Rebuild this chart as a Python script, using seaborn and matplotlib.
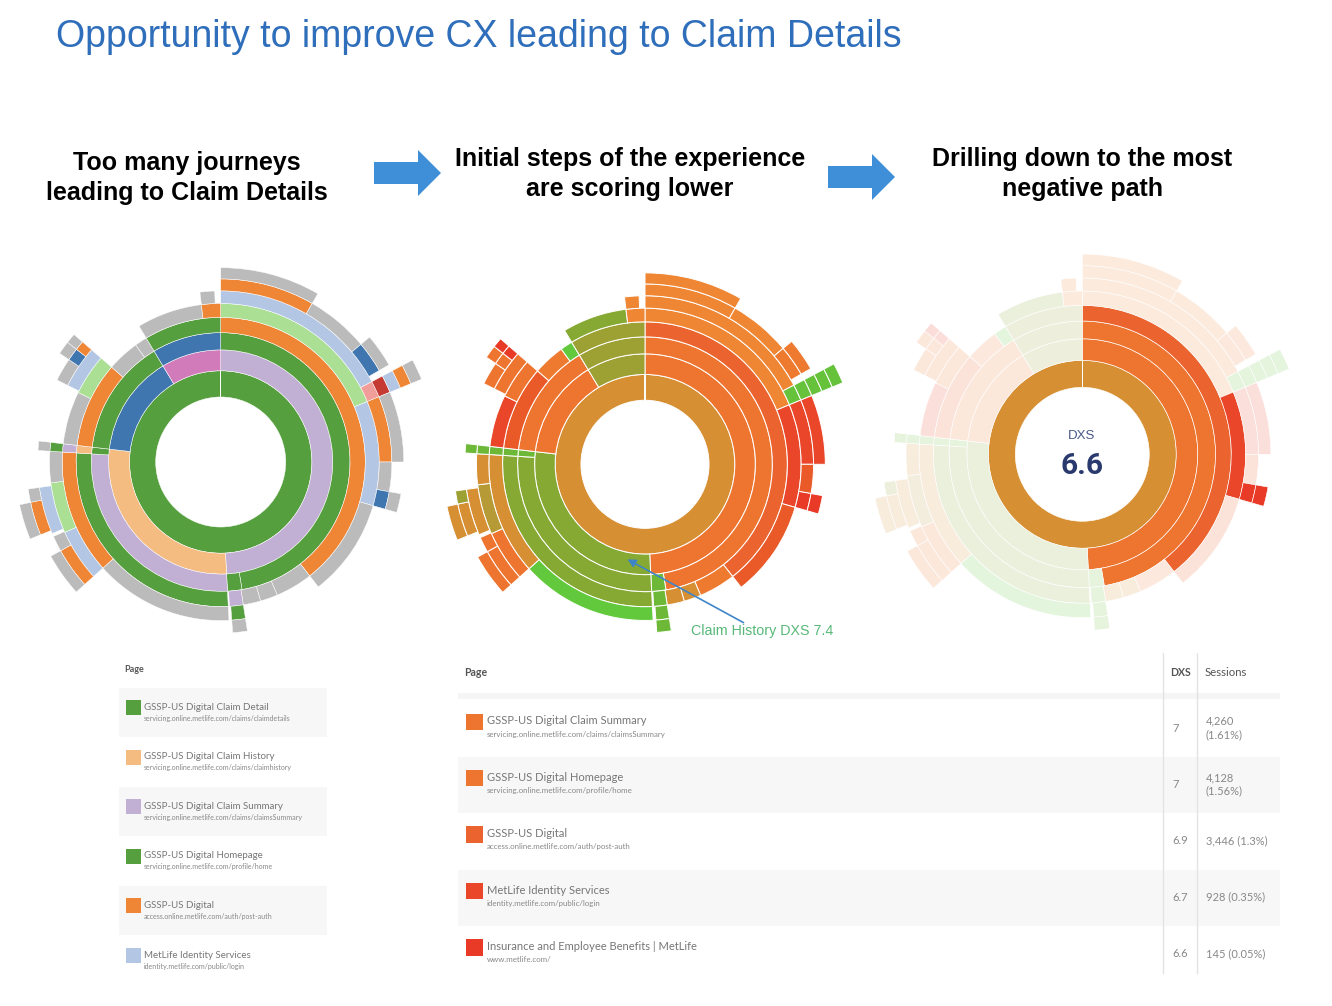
import numpy as np
import pandas as pd
import matplotlib.pyplot as plt
import matplotlib.patches as mpatches
from matplotlib.colors import to_rgb
import seaborn as sns

sns.set_theme(style="white")
plt.rcParams['font.family'] = ['Liberation Sans', 'DejaVu Sans']

title = "Opportunity to improve CX leading to Claim Details"

# radial edges of the rings, same tree in all three sunbursts
ring_edges = [196, 275, 338, 390, 436, 478, 516, 552, 586, 620, 655]

# one row per segment: ring, from deg, to deg, page colour, dxs colour, on negative path
ring1 = [(1, 0, 360, "green", "tan", 1)]
ring2 = [(2, 0, 177, "purple", "org", 1), (2, 177, 276.6, "peach", "olv", 0),
         (2, 276.6, 329, "blue", "org", 0), (2, 329, 360, "pink", "oli", 0)]
ring3 = [(3, 0, 170.5, "green", "org", 1), (3, 170.5, 177, "green", "gr2", 0),
         (3, 177, 273.6, "purple", "olv", 0), (3, 273.6, 276.6, "green", "gr2", 0),
         (3, 276.6, 329, "green", "org", 0), (3, 329, 360, "blue", "oli", 0)]
ring4 = [(4, 0, 142, "orange", "dor", 1), (4, 142, 157, "grey", "yl2", 0),
         (4, 157, 164, "grey", "tan", 0), (4, 164, 171, "grey", "tan", 0),
         (4, 171, 176.5, "purple", "gr2", 0), (4, 177, 273.6, "green", "olv", 0),
         (4, 273.6, 276.6, "peach", "gr2", 0), (4, 276.6, 311, "orange", "rdo", 0),
         (4, 311, 324, "grey", "yl2", 0), (4, 324, 329, "grey", "lim", 0),
         (4, 329, 360, "green", "oli", 0)]
ring5 = [(5, 0, 67.6, "lgreen", "yel", 0), (5, 67.6, 106, "lblue", "red", 1),
         (5, 106, 142, "grey", "rdo", 0), (5, 171, 176, "green", "gr2", 0),
         (5, 177, 228, "grey", "lim", 0), (5, 228, 273.6, "orange", "tan", 0),
         (5, 273.6, 276.6, "purple", "gr2", 0), (5, 276.6, 296, "grey", "red", 0),
         (5, 296, 311, "lgreen", "org", 0), (5, 329, 353, "grey", "olv", 0),
         (5, 353, 360, "orange", "yel", 0)]
ring6 = [(6, 0, 62, "lblue", "yel", 0), (6, 62, 67.6, "salmon", "gr3", 0),
         (6, 67.6, 90, "orange", "red", 0), (6, 90, 100, "grey", "rdo", 0),
         (6, 100, 106, "blue", "rd2", 1), (6, 171, 176, "grey", "gr2", 0),
         (6, 228, 245.7, "lblue", "org", 0), (6, 245.7, 263, "lgreen", "bro", 0),
         (6, 263, 273.6, "grey", "tan", 0), (6, 273.6, 276.6, "green", "gr2", 0),
         (6, 296.6, 311, "lblue", "org", 0), (6, 353, 358, "grey", "yel", 0)]
ring7 = [(7, 0, 30, "orange", "yel", 0), (7, 30, 50, "grey", "yel", 0),
         (7, 50, 60, "blue", "yl2", 0), (7, 62, 67.6, "red", "gr3", 0),
         (7, 67.6, 90, "grey", "red", 0), (7, 100, 106, "grey", "rd2", 1),
         (7, 228, 241, "orange", "org", 0), (7, 241, 246, "grey", "org", 0),
         (7, 247, 262, "lblue", "tan", 0), (7, 273.6, 276.6, "grey", "gr2", 0),
         (7, 296.6, 304, "grey", "org", 0), (7, 304, 308, "blue", "org", 0),
         (7, 308, 311, "orange", "rd2", 0)]
ring8 = [(8, 0, 30, "grey", "yel", 0), (8, 50, 60, "grey", "yl2", 0),
         (8, 62, 67.6, "lblue", "gr3", 0), (8, 228, 241, "grey", "org", 0),
         (8, 248, 258, "orange", "tan", 0), (8, 258, 262, "grey", "oli", 0),
         (8, 304, 308, "grey", "org", 0), (8, 308, 311, "grey", "rd2", 0)]
ring9 = [(9, 62, 67.6, "orange", "gr3", 0), (9, 248, 258, "grey", "tan", 0)]
ring10 = [(10, 62, 67.6, "grey", "gr3", 0)]

page_colours = dict(green="#569F3F", purple="#C2B0D4", peach="#F4BC80", blue="#3F76AF",
                    pink="#D27BBB", orange="#EF8636", grey="#BBBBBB", lgreen="#AADF94",
                    lblue="#B3C7E5", salmon="#F19D99", red="#C53A32")
dxs_colours = dict(tan="#D68F33", org="#EE752F", dor="#EB6430", red="#E9462A", rd2="#E83A26",
                   rdo="#E95A28", yel="#EE8633", yl2="#EE7A30", olv="#85A932", oli="#9DA033",
                   lim="#62C93D", gr2="#6DB937", gr3="#66C23A", bro="#B59A35")

left_pages = ["GSSP-US Digital Claim Detail", "GSSP-US Digital Claim History",
              "GSSP-US Digital Claim Summary", "GSSP-US Digital Homepage",
              "GSSP-US Digital", "MetLife Identity Services"]
left_urls = ["servicing.online.metlife.com/claims/claimdetails",
             "servicing.online.metlife.com/claims/claimhistory",
             "servicing.online.metlife.com/claims/claimsSummary",
             "servicing.online.metlife.com/profile/home",
             "access.online.metlife.com/auth/post-auth",
             "identity.metlife.com/public/login"]
left_keys = ["green", "peach", "purple", "green", "orange", "lblue"]

right_pages = ["GSSP-US Digital Claim Summary", "GSSP-US Digital Homepage", "GSSP-US Digital",
               "MetLife Identity Services", "Insurance and Employee Benefits | MetLife"]
right_urls = ["servicing.online.metlife.com/claims/claimsSummary",
              "servicing.online.metlife.com/profile/home",
              "access.online.metlife.com/auth/post-auth",
              "identity.metlife.com/public/login", "www.metlife.com/"]
right_keys = ["org", "org", "dor", "red", "rd2"]
right_dxs = ["7", "7", "6.9", "6.7", "6.6"]
right_sessions = ["4,260\n(1.61%)", "4,128\n(1.56%)", "3,446 (1.3%)", "928 (0.35%)", "145 (0.05%)"]

df = pd.DataFrame(ring1 + ring2 + ring3 + ring4 + ring5 + ring6 + ring7 + ring8 + ring9 + ring10,
                  columns=["ring", "start", "end", "page", "dxs", "path"])

W, H = 1332, 1006
fig = plt.figure(figsize=(W / 100, H / 100), dpi=100, facecolor="white")


def sunburst(cx, cy, scale, colours, alphas, lw):
    rmax = 660
    half = rmax / 3 * scale
    ax = fig.add_axes([(cx - half) / W, 1 - (cy + half) / H, 2 * half / W, 2 * half / H],
                      projection="polar")
    ax.set_theta_zero_location("N")
    ax.set_theta_direction(-1)
    ax.set_ylim(0, rmax)
    bottoms = np.array(ring_edges)[df["ring"] - 1]
    tops = np.array(ring_edges)[df["ring"]]
    ax.bar(np.radians((df["start"] + df["end"]) / 2), tops - bottoms,
           width=np.radians(df["end"] - df["start"]), bottom=bottoms,
           color=[to_rgb(c) + (a,) for c, a in zip(colours, alphas)],
           edgecolor="white", linewidth=lw)
    ax.axis("off")
    return ax


ones = np.ones(len(df))
sunburst(220.7, 462, 0.995, df["page"].map(page_colours), ones, 0.35)
sunburst(645, 464.3, 0.98, df["dxs"].map(dxs_colours), ones, 0.7)
sunburst(1082.3, 454.3, 1.025, df["dxs"].map(dxs_colours), np.where(df["path"] == 1, 1, 0.17), 0.45)

# overlay in pixel coordinates for the text, arrows and tables
top = fig.add_axes([0, 0, 1, 1], facecolor="none")
top.set_xlim(0, W)
top.set_ylim(H, 0)
top.axis("off")

top.text(56, 37, title, color="#2F6EBA", fontsize=27, va="center", ha="left")

heads = [(187, ["Too many journeys", "leading to Claim Details"], 163),
         (630, ["Initial steps of the experience", "are scoring lower"], 159),
         (1082, ["Drilling down to the most", "negative path"], 159)]
for x, lines, y in heads:
    for i, line in enumerate(lines):
        top.text(x, y + 30 * i, line, ha="center", va="center", fontsize=18, fontweight="bold", color="black")

for x0, yc in [(374, 173), (828, 177)]:
    top.add_patch(mpatches.Polygon([(x0, yc - 11), (x0 + 44, yc - 11), (x0 + 44, yc - 23), (x0 + 67, yc),
                                    (x0 + 44, yc + 23), (x0 + 44, yc + 11), (x0, yc + 11)],
                                   facecolor="#3F8FD8", edgecolor="none"))

top.annotate("", xy=(625, 558), xytext=(746, 624),
             arrowprops=dict(arrowstyle="-|>", color="#3F86C8", lw=1.2, mutation_scale=12))
top.text(691, 631.5, "Claim History DXS 7.4", color="#57B878", fontsize=10.3, va="center")
top.text(1082, 436, "DXS", color="#4A5A8A", fontsize=9.6, ha="center", va="center")
top.text(1082, 466, "6.6", color="#2A3A6E", fontsize=21.5, ha="center", va="center", fontweight="bold",
         family=["Roboto", "DejaVu Sans"])

# left table
tf = ["Lato", "DejaVu Sans"]
top.text(124, 669.5, "Page", color="#555555", fontsize=6.5, va="center", family=tf, fontweight="bold")
for i, (p, u, k) in enumerate(zip(left_pages, left_urls, left_keys)):
    y0 = 688 + 49.6 * i
    if i % 2 == 0:
        top.add_patch(mpatches.Rectangle((119, y0), 208, 49, facecolor="#F7F7F7", edgecolor="none"))
    top.add_patch(mpatches.Rectangle((126, y0 + 12), 15, 15, facecolor=page_colours[k], edgecolor="none"))
    top.text(144, y0 + 19, p, color="#777777", fontsize=7.0, va="center", family=tf)
    top.text(144, y0 + 30, u, color="#888888", fontsize=5.0, va="center", family=tf)

# right table
top.text(464, 672, "Page", color="#555555", fontsize=7.6, va="center", family=tf, fontweight="bold")
top.text(1170, 672, "DXS", color="#555555", fontsize=7.6, va="center", family=tf, fontweight="bold")
top.text(1205, 672, "Sessions", color="#555555", fontsize=8.2, va="center", family=tf)
top.add_patch(mpatches.Rectangle((458, 693), 822, 6, facecolor="#F5F5F5", edgecolor="none"))
for i, (p, u, k, d, s) in enumerate(zip(right_pages, right_urls, right_keys, right_dxs, right_sessions)):
    y0 = 700.5 + 56.4 * i
    if i % 2 == 1:
        top.add_patch(mpatches.Rectangle((458, y0), 822, 56, facecolor="#F7F7F7", edgecolor="none"))
    top.add_patch(mpatches.Rectangle((466, y0 + 13), 17, 16.5, facecolor=dxs_colours[k], edgecolor="none"))
    top.text(487, y0 + 20.5, p, color="#777777", fontsize=8.0, va="center", family=tf)
    top.text(487, y0 + 33.5, u, color="#888888", fontsize=5.7, va="center", family=tf)
    top.text(1172, y0 + 27.5, d, color="#888888", fontsize=8, va="center", family=tf)
    top.text(1206, y0 + 27.5, s, color="#888888", fontsize=8, va="center", family=tf, linespacing=1.25)
for x in [1163, 1197]:
    top.plot([x, x], [653, 973], color="#E3E3E3", lw=1)

plt.savefig("out.png", dpi=100)
